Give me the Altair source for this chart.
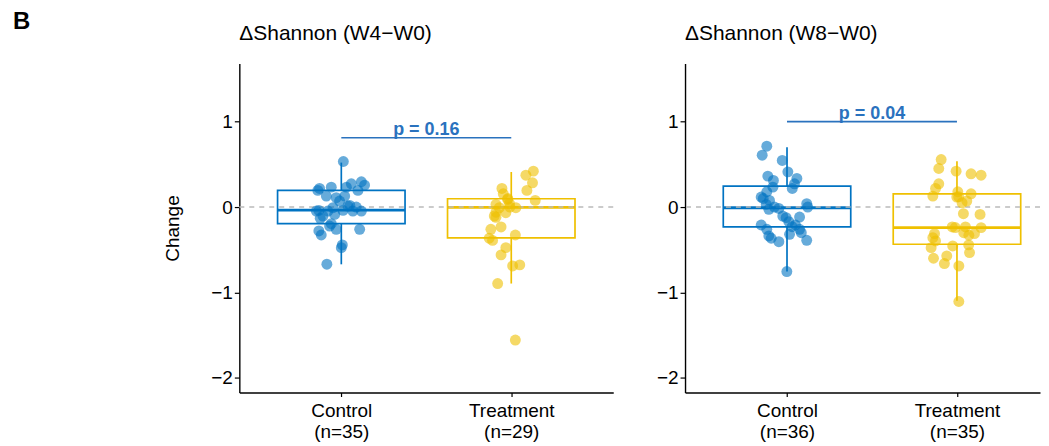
import altair as alt
import pandas as pd

# ---------------- data ----------------
groups = ["Control", "Treatment"]
panel_titles = ["\u0394Shannon (W4\u2212W0)", "\u0394Shannon (W8\u2212W0)"]
group_n = [[35, 29], [36, 35]]
p_labels = ["p = 0.16", "p = 0.04"]
p_heights = [0.81, 1.0]
colors = ["#0073C2", "#EFC000"]
panel_letter = "B"
y_title = "Change"

# W4-W0, Control
w4_ctrl = [0.533, 0.218, 0.233, 0.195, 0.128, 0.109, 0.233, 0.272, 0.296, 0.257,
           0.195, 0.128, 0.012, 0.000, -0.047, -0.039, -0.086, -0.039, -0.047, -0.132,
           -0.195, -0.280, -0.327, -0.260, -0.260, -0.443, -0.475, -0.669, -0.222, -0.008,
           -0.105, -0.047, 0.070, -0.047, 0.020]
w4_ctrl_jit = [0.012, -0.128, -0.059, -0.138, -0.088, -0.030, 0.030, 0.059, 0.118, 0.137,
               0.098, 0.020, 0.039, 0.088, 0.118, 0.010, -0.039, -0.132, -0.079, -0.124,
               -0.059, -0.132, -0.118, -0.030, 0.108, 0.006, 0.000, -0.085, -0.069, -0.049,
               -0.108, 0.068, -0.010, -0.147, 0.050]
# W4-W0, Treatment
w4_trt = [0.420, 0.373, 0.284, 0.195, 0.078, 0.218, 0.155, 0.090, 0.031, 0.000,
          -0.008, -0.066, -0.105, -0.120, -0.233, -0.260, -0.365, -0.327, -0.475, -0.560,
          -0.677, -0.689, -0.895, -1.556, -0.008, 0.100, -0.390, 0.040, -0.060]
w4_trt_jit = [0.130, 0.086, 0.125, 0.092, 0.141, -0.055, -0.047, -0.022, -0.090, -0.008,
              0.027, -0.032, -0.100, -0.090, -0.060, -0.120, -0.130, 0.024, -0.032, -0.060,
              0.050, 0.008, -0.080, 0.024, -0.070, -0.020, -0.110, -0.010, -0.090]
# W8-W0, Control
w8_ctrl = [0.712, 0.607, 0.545, 0.412, 0.362, 0.311, 0.335, 0.272, 0.218, 0.233,
           0.179, 0.117, 0.078, 0.031, -0.027, -0.016, 0.039, 0.000, -0.124, -0.117,
           -0.171, -0.210, -0.210, -0.260, -0.260, -0.319, -0.300, -0.338, -0.365, -0.405,
           -0.389, -0.755, -0.230, 0.000, -0.105, 0.100]
w8_ctrl_jit = [-0.119, -0.146, -0.028, 0.005, -0.113, -0.080, 0.058, 0.044, 0.031, -0.083,
               -0.119, -0.152, -0.103, -0.122, -0.107, -0.048, 0.116, 0.122, -0.005, 0.074,
               0.011, 0.050, -0.152, -0.119, 0.074, 0.015, 0.084, -0.107, -0.093, -0.048,
               0.116, -0.001, 0.030, -0.074, -0.025, -0.140]
# W8-W0, Treatment
w8_trt = [0.556, 0.451, 0.420, 0.389, 0.373, 0.272, 0.218, 0.128, 0.179, 0.155,
          0.117, 0.070, -0.078, -0.086, -0.233, -0.233, -0.241, -0.311, -0.311, -0.358,
          -0.397, -0.330, -0.455, -0.443, -0.475, -0.533, -0.572, -0.599, -0.661, -0.689,
          -1.105, -0.240, -0.300, 0.120, 0.050]
w8_trt_jit = [-0.093, -0.107, -0.005, 0.083, 0.142, -0.107, -0.126, -0.142, 0.005, 0.083,
              -0.001, 0.058, 0.038, 0.136, -0.028, 0.050, 0.142, -0.132, 0.103, -0.142,
              -0.126, 0.070, -0.025, 0.069, -0.152, 0.074, -0.060, -0.138, -0.074, 0.011,
              0.011, -0.010, 0.040, 0.010, 0.030]

# box summaries [Control, Treatment] per panel
box_q1 = [[-0.195, -0.360], [-0.233, -0.435]]
box_med = [[-0.035, -0.003], [-0.008, -0.241]]
box_q3 = [[0.195, 0.097], [0.245, 0.155]]
box_lo = [[-0.670, -0.895], [-0.755, -1.097]]
box_hi = [[0.520, 0.410], [0.700, 0.537]]

points = [[(w4_ctrl, w4_ctrl_jit), (w4_trt, w4_trt_jit)],
          [(w8_ctrl, w8_ctrl_jit), (w8_trt, w8_trt_jit)]]

FONT = "Liberation Sans"
Y_DOMAIN = [-2.17, 1.68]
BOX_HALF = 0.375
X_DOMAINS = [[0.4, 2.6], [0.4, 2.4886]]
WIDTHS = [375, 356]
HEIGHT = 330


def panel(i):
    rows = []
    for g, (vals, jit) in enumerate(points[i]):
        for v, j in zip(vals, jit):
            rows.append({"group": groups[g], "x": g + 1 + j, "y": v})
    pts = pd.DataFrame(rows)
    boxes = pd.DataFrame({
        "group": groups,
        "pos": [1, 2],
        "xa": [1 - BOX_HALF, 2 - BOX_HALF],
        "xb": [1 + BOX_HALF, 2 + BOX_HALF],
        "q1": box_q1[i], "med": box_med[i], "q3": box_q3[i],
        "lo": box_lo[i], "hi": box_hi[i],
    })
    ns = group_n[i]
    label_expr = (f"datum.value == 1 ? ['{groups[0]}', '(n={ns[0]})'] : "
                  f"['{groups[1]}', '(n={ns[1]})']")
    xscale = alt.Scale(domain=X_DOMAINS[i], nice=False, zero=False)
    yscale = alt.Scale(domain=Y_DOMAIN, nice=False, zero=False)
    xaxis = alt.Axis(values=[1, 2], labelExpr=label_expr, title=None,
                     tickSize=4, labelPadding=5, labelLineHeight=21)
    yaxis = alt.Axis(values=[-2, -1, 0, 1], format="d",
                     title=(y_title if i == 0 else None),
                     tickSize=5, labelPadding=2, titlePadding=28)
    color = alt.Color("group:N", scale=alt.Scale(domain=groups, range=colors), legend=None)

    base_box = alt.Chart(boxes)
    rect = base_box.mark_rect(fill="white", fillOpacity=0, strokeWidth=1.7).encode(
        x=alt.X("xa:Q", scale=xscale, axis=xaxis),
        x2="xb:Q",
        y=alt.Y("q1:Q", scale=yscale, axis=yaxis),
        y2="q3:Q",
        stroke=alt.Stroke("group:N", scale=alt.Scale(domain=groups, range=colors), legend=None),
    )
    wh_lo = base_box.mark_rule(strokeWidth=1.7).encode(
        x=alt.X("pos:Q", scale=xscale, axis=xaxis),
        y=alt.Y("lo:Q", scale=yscale, axis=yaxis), y2="q1:Q", color=color)
    wh_hi = base_box.mark_rule(strokeWidth=1.7).encode(
        x=alt.X("pos:Q", scale=xscale, axis=xaxis),
        y=alt.Y("q3:Q", scale=yscale, axis=yaxis), y2="hi:Q", color=color)
    med = base_box.mark_rule(strokeWidth=2.8).encode(
        x=alt.X("xa:Q", scale=xscale, axis=xaxis), x2="xb:Q",
        y=alt.Y("med:Q", scale=yscale, axis=yaxis), color=color)

    zero = alt.Chart(pd.DataFrame({"z": [0]})).mark_rule(
        color="#BBBBBB", strokeDash=[5, 5], strokeWidth=1.5).encode(
        y=alt.Y("z:Q", scale=yscale, axis=yaxis))

    dots = alt.Chart(pts).mark_circle(size=120, opacity=0.6).encode(
        x=alt.X("x:Q", scale=xscale, axis=xaxis),
        y=alt.Y("y:Q", scale=yscale, axis=yaxis),
        color=color)

    br = pd.DataFrame({"x1": [1], "x2": [2], "xm": [1.5], "y": [p_heights[i]],
                       "label": [p_labels[i]]})
    bracket = alt.Chart(br).mark_rule(color="#2A72BE", strokeWidth=1.6).encode(
        x=alt.X("x1:Q", scale=xscale, axis=xaxis), x2="x2:Q",
        y=alt.Y("y:Q", scale=yscale, axis=yaxis))
    ptext = alt.Chart(br).mark_text(
        color="#2A72BE", fontWeight="bold", fontSize=18, font=FONT,
        baseline="alphabetic", dy=-3).encode(
        x=alt.X("xm:Q", scale=xscale, axis=xaxis),
        y=alt.Y("y:Q", scale=yscale, axis=yaxis),
        text="label:N")

    tt = pd.DataFrame({"t": [panel_titles[i]]})
    title = alt.Chart(tt).mark_text(
        align="left", baseline="alphabetic", fontSize=21, font=FONT, color="black").encode(
        x=alt.value(0), y=alt.value(-24), text="t:N")

    layers = [rect, wh_lo, wh_hi, med, zero, dots, bracket, ptext, title]
    if i == 0:
        bt = pd.DataFrame({"t": [panel_letter]})
        letter = alt.Chart(bt).mark_text(
            align="left", baseline="alphabetic", fontSize=24, fontWeight="bold",
            font=FONT, color="black").encode(
            x=alt.value(-227), y=alt.value(-35), text="t:N")
        layers.append(letter)
    return alt.layer(*layers).properties(width=WIDTHS[i], height=HEIGHT)


chart = alt.hconcat(panel(0), panel(1), spacing=42).properties(
    padding={"left": 5, "right": 0, "top": 1, "bottom": 0}
).configure_view(stroke=None).configure_axis(
    grid=False,
    domainColor="black", domainWidth=1.4,
    tickColor="black", tickWidth=1.2,
    labelColor="black", labelFont=FONT, labelFontSize=19,
    titleColor="black", titleFont=FONT, titleFontSize=19, titleFontWeight="normal",
)

chart.save("out.html", embed_options={"renderer": "svg", "actions": False})
